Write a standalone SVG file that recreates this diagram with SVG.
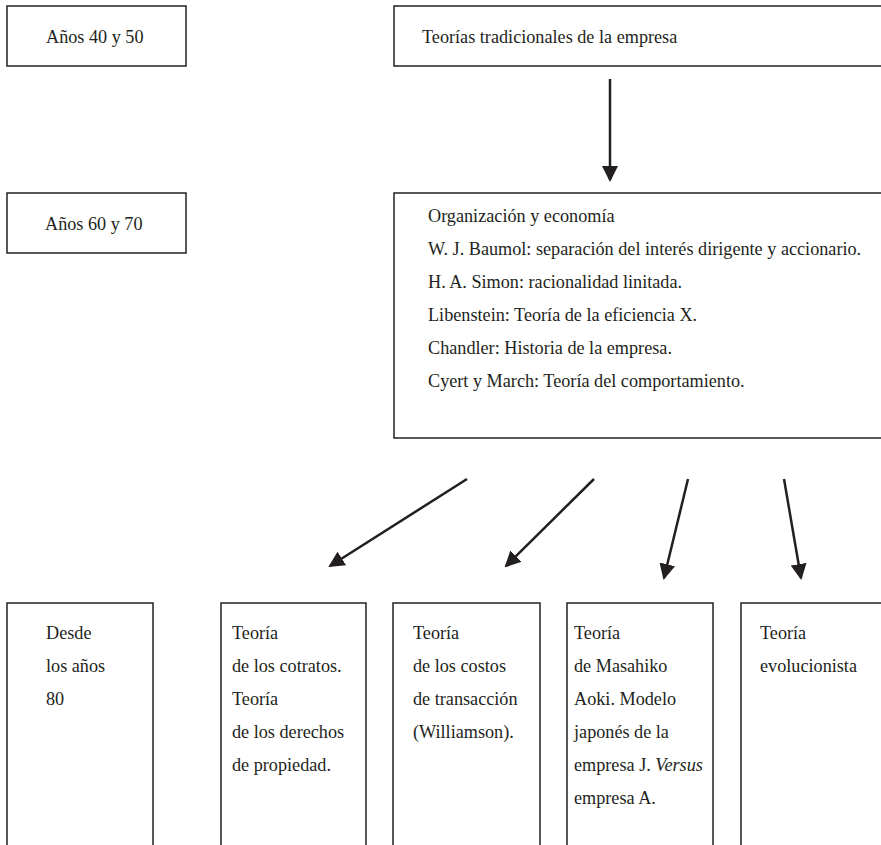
<svg xmlns="http://www.w3.org/2000/svg" width="881" height="845" viewBox="0 0 881 845">
<defs>
<style>
.box{fill:#fff;stroke:#231f20;stroke-width:1.5}
.t{font-family:"Liberation Serif","DejaVu Serif",serif;font-size:18.2px;fill:#231f20}
.c{stroke:#231f20;stroke-width:2.5;fill:none}
</style>
<marker id="ah" markerUnits="userSpaceOnUse" markerWidth="16" markerHeight="16" refX="14" refY="8" orient="auto" viewBox="0 0 16 16">
<path d="M0,0 L16,8 L0,16 z" fill="#231f20"/>
</marker>
</defs>
<rect width="881" height="845" fill="#fff"/>
<g id="n-4050">
<rect class="box" x="7" y="6" width="179" height="60"/>
<text class="t" x="46" y="43">Años 40 y 50</text>
</g>
<g id="n-trad">
<rect class="box" x="394" y="6" width="500" height="60"/>
<text class="t" x="422" y="43">Teorías tradicionales de la empresa</text>
</g>
<g id="n-6070">
<rect class="box" x="7" y="193" width="179" height="60"/>
<text class="t" x="45" y="230">Años 60 y 70</text>
</g>
<g id="n-org">
<rect class="box" x="394" y="193" width="500" height="245"/>
<text class="t" x="428" y="222">Organización y economía</text>
<text class="t" x="428" y="255">W. J. Baumol: separación del interés dirigente y accionario.</text>
<text class="t" x="428" y="288">H. A. Simon: racionalidad linitada.</text>
<text class="t" x="428" y="321">Libenstein: Teoría de la eficiencia X.</text>
<text class="t" x="428" y="354">Chandler: Historia de la empresa.</text>
<text class="t" x="428" y="387">Cyert y March: Teoría del comportamiento.</text>
</g>
<g id="n-80">
<rect class="box" x="7" y="603" width="146" height="260"/>
<text class="t" x="46" y="639">Desde</text>
<text class="t" x="46" y="672">los años</text>
<text class="t" x="46" y="705">80</text>
</g>
<g id="n-contratos">
<rect class="box" x="221" y="603" width="145" height="260"/>
<text class="t" x="232" y="639">Teoría</text>
<text class="t" x="232" y="672">de los cotratos.</text>
<text class="t" x="232" y="705">Teoría</text>
<text class="t" x="232" y="738">de los derechos</text>
<text class="t" x="232" y="771">de propiedad.</text>
</g>
<g id="n-costos">
<rect class="box" x="393" y="603" width="147" height="260"/>
<text class="t" x="413" y="639">Teoría</text>
<text class="t" x="413" y="672">de los costos</text>
<text class="t" x="413" y="705">de transacción</text>
<text class="t" x="413" y="738">(Williamson).</text>
</g>
<g id="n-aoki">
<rect class="box" x="567" y="603" width="146" height="260"/>
<text class="t" x="574" y="639">Teoría</text>
<text class="t" x="574" y="672">de Masahiko</text>
<text class="t" x="574" y="705">Aoki. Modelo</text>
<text class="t" x="574" y="738">japonés de la</text>
<text class="t" x="574" y="771">empresa J. <tspan font-style="italic">Versus</tspan></text>
<text class="t" x="574" y="804">empresa A.</text>
</g>
<g id="n-evol">
<rect class="box" x="741" y="603" width="160" height="260"/>
<text class="t" x="760" y="639">Teoría</text>
<text class="t" x="760" y="672">evolucionista</text>
</g>
<g id="connectors">
<line class="c" x1="610" y1="79" x2="610" y2="180" marker-end="url(#ah)"/>
<line class="c" x1="467" y1="479" x2="330" y2="566" marker-end="url(#ah)"/>
<line class="c" x1="594" y1="479" x2="506" y2="566" marker-end="url(#ah)"/>
<line class="c" x1="688" y1="479" x2="664" y2="578" marker-end="url(#ah)"/>
<line class="c" x1="784" y1="479" x2="801" y2="578" marker-end="url(#ah)"/>
</g>
</svg>
